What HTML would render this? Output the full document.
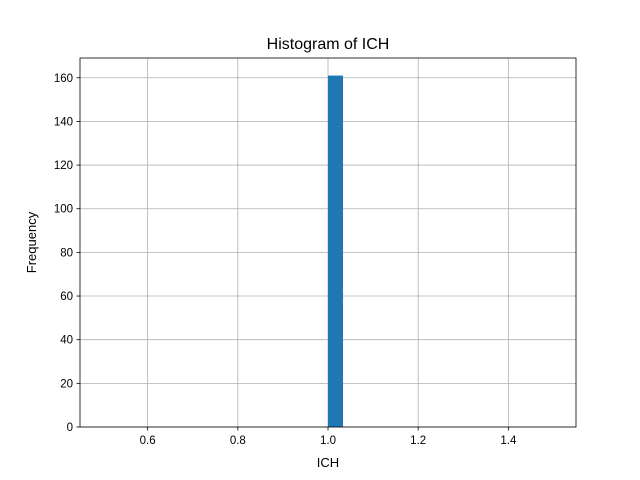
<!DOCTYPE html>
<html><head><meta charset="utf-8"><style>
body{margin:0;background:#fff}
svg{display:block;font-family:"Liberation Sans","DejaVu Sans",sans-serif}
</style></head><body>
<svg id="chart" width="640" height="480">
<rect x="0" y="0" width="640" height="480" fill="#fff"/>
<g id="grid"></g><g id="bars"></g><g id="axes"></g>
<text x="328" y="49" text-anchor="middle" font-size="16">Histogram of ICH</text>
<text x="328" y="467" text-anchor="middle" font-size="13">ICH</text>
<text x="36" y="242.5" text-anchor="middle" font-size="13" transform="rotate(-90 36 242.5)">Frequency</text>
</svg>
<script>
const binStart = 0.5;
const binWidth = 1/30;
const counts = [0,0,0,0,0,0,0,0,0,0,0,0,0,0,0,161,0,0,0,0,0,0,0,0,0,0,0,0,0,0];
const xTicks = [0.6,0.8,1.0,1.2,1.4];
const xTickLabels = ["0.6","0.8","1.0","1.2","1.4"];
const yTicks = [0,20,40,60,80,100,120,140,160];
const xMin=0.45,xMax=1.55,yMax=169.05;
const L=80,R=576,T=58,B=427;
const NS="http://www.w3.org/2000/svg";
function sx(v){return L+(v-xMin)/(xMax-xMin)*(R-L);}
function sy(v){return B-v/yMax*(B-T);}
function mk(tag,attrs,parent){const e=document.createElementNS(NS,tag);for(const k in attrs)e.setAttribute(k,attrs[k]);parent.appendChild(e);return e;}
const grid=document.getElementById('grid'),bars=document.getElementById('bars'),axes=document.getElementById('axes');
xTicks.forEach((t,i)=>{const x=sx(t);
 let g=mk('line',{x1:x,x2:x,y1:T,y2:B,stroke:'#b0b0b0','stroke-width':0.8},grid);
 
 
 mk('line',{x1:x,x2:x,y1:B,y2:B+3.5,stroke:'#000','stroke-width':0.8},axes);
 let tx=mk('text',{x:x,y:B+17,'text-anchor':'middle','font-size':11.5},axes);tx.textContent=xTickLabels[i];
 
 
});
yTicks.forEach(t=>{const y=sy(t);
 let g=mk('line',{x1:L,x2:R,y1:y,y2:y,stroke:'#b0b0b0','stroke-width':0.8},grid);
 
 
 mk('line',{x1:L-3.5,x2:L,y1:y,y2:y,stroke:'#000','stroke-width':0.8},axes);
 let tx=mk('text',{x:L-7,y:y+4,'text-anchor':'end','font-size':11.5},axes);tx.textContent=String(t);
 
 
});
counts.forEach((c,i)=>{if(c<=0)return;const x0=sx(binStart+i*binWidth),x1=sx(binStart+(i+1)*binWidth);
 let r=mk('rect',{x:x0,y:sy(c),width:x1-x0,height:B-sy(c),fill:'#1f77b4'},bars);
 
 
});
let f=mk('rect',{x:L,y:T,width:R-L,height:B-T,fill:'none',stroke:'#000','stroke-width':0.8},axes);


</script>
</body></html>
